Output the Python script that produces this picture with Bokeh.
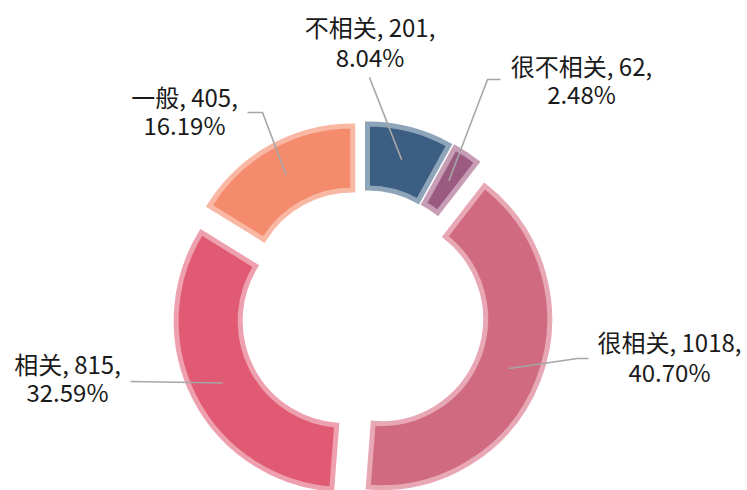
import math
from bokeh.plotting import figure
from bokeh.models import ColumnDataSource, Range1d
from bokeh.core.properties import value
from bokeh.embed import file_html
from bokeh.resources import INLINE

# ---- data ----
categories = ["不相关", "很不相关", "很相关", "相关", "一般"]
counts = [201, 62, 1018, 815, 405]
fill_colors = ["#3B5E82", "#9B5B80", "#CF6A81", "#DF5A72", "#F48B6D"]
border_colors = ["#8EA4B9", "#C79CB5", "#E8A7B5", "#EEA0AE", "#F9B8A4"]

# ---- layout (pixel space of the picture, y measured downward) ----
W, H = 747, 490
CX, CY = 362.0, 311.4
R_OUT, R_IN = 168.5, 104.5
EXPLODE = 20.0
ANCHOR_R = 137.0
TEXT_DY = -2.5
# label block centres (x, line1 y, line2 y)
label_pos = {
    "不相关": (369.5, 28.0, 58.0),
    "很不相关": (581.0, 67.0, 95.5),
    "很相关": (669.0, 343.5, 373.5),
    "相关": (67.0, 365.5, 393.5),
    "一般": (184.0, 98.5, 126.0),
}
leader_start = {
    "不相关": [(369, 77)],
    "很不相关": [(500, 79), (487, 79)],
    "很相关": [(588, 358), (577, 358)],
    "相关": [(130, 381)],
    "一般": [(247, 112), (262, 112)],
}


def yu(y_img):
    return H - y_img


total = sum(counts)
xs, ys, starts, ends, mids = [], [], [], [], []
acc = 0.0
for c in counts:
    t1 = acc / total * 360.0
    acc += c
    t2 = acc / total * 360.0
    tm = math.radians((t1 + t2) / 2)
    sx = CX + EXPLODE * math.sin(tm)
    sy = CY - EXPLODE * math.cos(tm)
    xs.append(sx)
    ys.append(yu(sy))
    starts.append(math.radians(90 - t2))
    ends.append(math.radians(90 - t1))
    mids.append(tm)

src = ColumnDataSource(dict(x=xs, y=ys, start=starts, end=ends,
                            fill=fill_colors, line=border_colors))

p = figure(width=W, height=H, x_range=Range1d(0, W), y_range=Range1d(0, H),
           output_backend="svg", toolbar_location=None, min_border=0,
           x_axis_location=None, y_axis_location=None)
p.grid.visible = False
p.outline_line_color = None
p.background_fill_color = "white"
p.border_fill_color = "white"

p.annular_wedge(x="x", y="y", inner_radius=R_IN, outer_radius=R_OUT,
                start_angle="start", end_angle="end", fill_color="fill",
                line_color="line", line_width=5, line_join="miter", source=src)

# leader lines
lx, ly = [], []
for i, cat in enumerate(categories):
    ax = xs[i] + ANCHOR_R * math.sin(mids[i])
    ay = ys[i] + ANCHOR_R * math.cos(mids[i])
    pts = leader_start[cat]
    lx.append([pt[0] for pt in pts] + [ax])
    ly.append([yu(pt[1]) for pt in pts] + [ay])
p.multi_line(xs=lx, ys=ly, line_color="#A6A6A6", line_width=1.6)

# labels
tx, ty, tt = [], [], []
for cat, c in zip(categories, counts):
    pct = c / total * 100
    x0, y1, y2 = label_pos[cat]
    tx += [x0, x0]
    ty += [yu(y1 + TEXT_DY), yu(y2 + TEXT_DY)]
    tt += [f"{cat}, {c},", f"{pct:.2f}%"]
p.text(x=tx, y=ty, text=tt, text_font=value("Noto Sans CJK SC"), text_font_size="24px",
       text_align="center", text_baseline="middle", text_color="#1A1A1A")

open("out.html", "w").write(file_html(p, INLINE))
